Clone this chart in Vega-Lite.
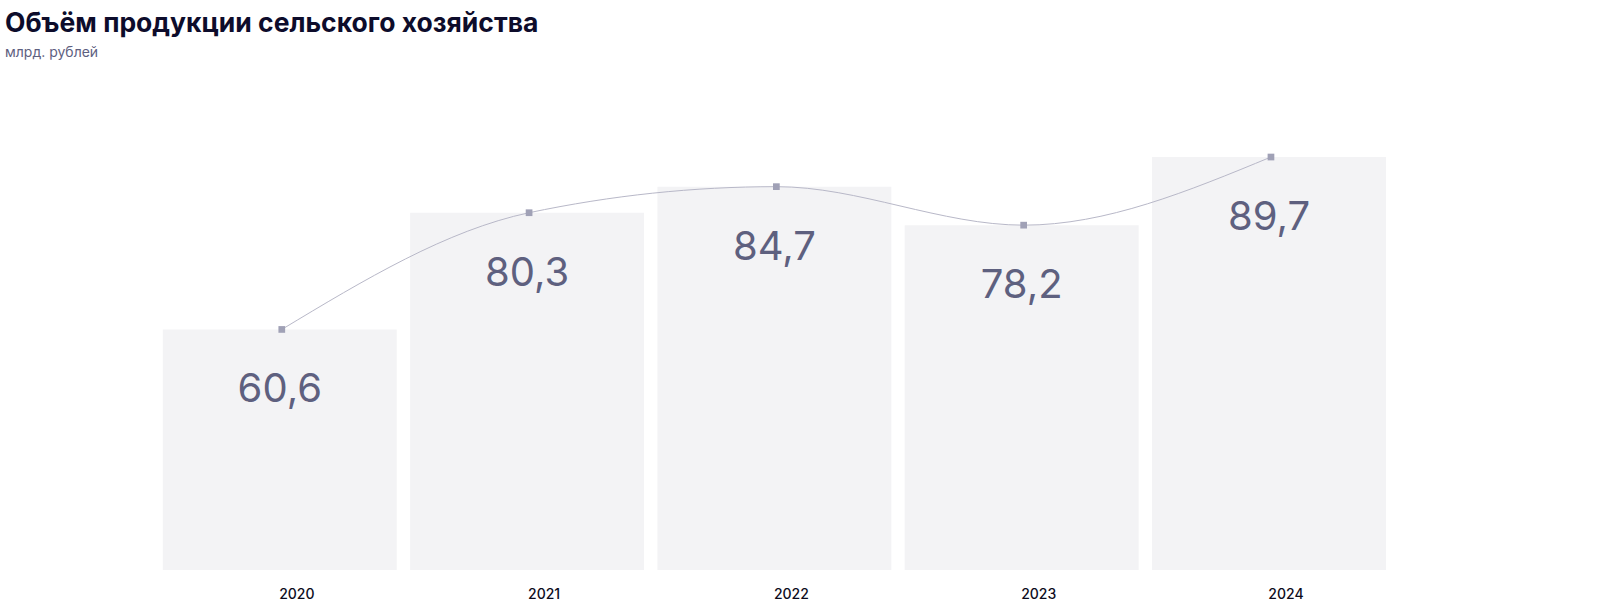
{
  "$schema": "https://vega.github.io/schema/vega-lite/v6.json",
  "width": 1600,
  "height": 474,
  "autosize": {"type": "none"},
  "padding": {"left": 0, "top": 96, "right": 0, "bottom": 43},
  "background": "white",
  "title": {
    "text": "Объём продукции сельского хозяйства",
    "subtitle": "млрд. рублей",
    "anchor": "start",
    "frame": "group",
    "font": "Inter",
    "fontSize": 26.5,
    "fontWeight": 700,
    "color": "#0d0c2b",
    "subtitleFont": "Inter",
    "subtitleFontSize": 14,
    "subtitleColor": "#5e607f",
    "subtitlePadding": 9,
    "offset": 36,
    "dx": 5
  },
  "data": {
    "values": [
      {"year": "2020", "value": 60.6, "label": "60,6", "base": 20},
      {"year": "2021", "value": 80.3, "label": "80,3", "base": 20},
      {"year": "2022", "value": 84.7, "label": "84,7", "base": 20},
      {"year": "2023", "value": 78.2, "label": "78,2", "base": 20},
      {"year": "2024", "value": 89.7, "label": "89,7", "base": 20}
    ]
  },
  "encoding": {
    "x": {
      "field": "year",
      "type": "ordinal",
      "scale": {"paddingInner": 0.054, "paddingOuter": 0.762, "align": 0.432},
      "axis": {
        "title": null,
        "orient": "bottom",
        "labelAngle": 0,
        "domain": false,
        "ticks": false,
        "labelFont": "Inter",
        "labelFontSize": 14,
        "labelFontWeight": 500,
        "labelColor": "#0d0c1c",
        "labelPadding": 17,
        "labelOffset": 17
      }
    },
    "y": {
      "field": "value",
      "type": "quantitative",
      "scale": {"domain": [20, 100], "zero": false, "nice": false},
      "axis": null
    }
  },
  "layer": [
    {
      "mark": {"type": "bar", "color": "#f3f3f5"},
      "encoding": {"y2": {"field": "base"}}
    },
    {
      "mark": {"type": "line", "interpolate": "monotone", "color": "#b8b8c8", "strokeWidth": 1, "xOffset": 2}
    },
    {
      "mark": {"type": "square", "size": 45, "color": "#a0a1b6", "opacity": 1, "filled": true, "xOffset": 2}
    },
    {
      "mark": {"type": "text", "baseline": "middle", "dy": 61, "font": "Inter", "fontSize": 40, "color": "#5e607f"},
      "encoding": {"text": {"field": "label"}}
    }
  ],
  "config": {"view": {"stroke": null}}
}
